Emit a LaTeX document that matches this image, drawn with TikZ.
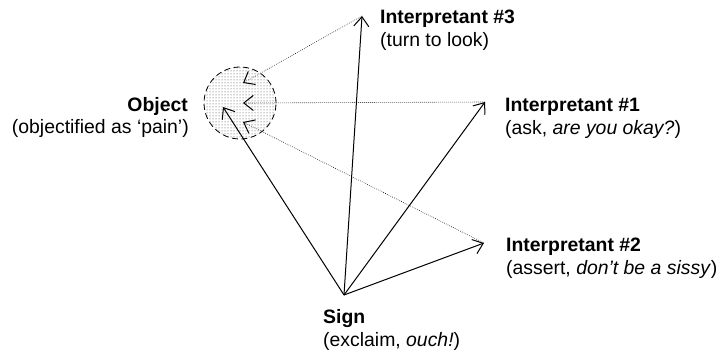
\documentclass[tikz,border=0pt]{standalone}
\usepackage{fontspec}
\setmainfont{Liberation Sans}
\usetikzlibrary{arrows.meta,patterns}
\begin{document}
\begin{tikzpicture}[x=1pt,y=-1pt,
  lbl/.style={inner sep=0pt,font=\fontsize{19.4}{23}\selectfont},
  solidarrow/.style={line width=1pt,-{Straight Barb[length=9.5pt,width=15pt,line width=1pt]}},
  dotarrow/.style={line width=0.6pt,dash pattern=on 0.6pt off 1.4pt,-{Straight Barb[length=9.5pt,width=15pt,line width=1pt]}}]
\useasboundingbox (0,0) rectangle (717,353);
% object circle
\node[circle,minimum size=72pt,inner sep=0pt,draw,line width=0.8pt,dash pattern=on 6pt off 3.5pt,pattern=dots,pattern color=black!75] (obj) at (240,103) {};
% points
\coordinate (sign) at (344,295);
\coordinate (i3) at (362,16);
\coordinate (i1) at (485,102);
\coordinate (i2) at (484,243);
\coordinate (oS) at (223,107);
\coordinate (o3) at (243,83);
\coordinate (o1) at (243,103);
\coordinate (o2) at (243,122);
% arrows
\draw[solidarrow] (sign) -- (i3);
\draw[solidarrow] (sign) -- (i1);
\draw[solidarrow] (sign) -- (i2);
\draw[solidarrow] (sign) -- (oS);
\draw[dotarrow] (i3) -- (o3);
\draw[dotarrow] (i1) -- (o1);
\draw[dotarrow] (i2) -- (o2);
% labels
\node[lbl,anchor=base west] (i3a) at (380,24) {\textbf{Interpretant \#3}};
\node[lbl,anchor=base west] (i3b) at (380,47) {(turn to look)};
\node[lbl,anchor=base west] (i1a) at (505,111) {\textbf{Interpretant \#1}};
\node[lbl,anchor=base west] (i1b) at (505,134) {(ask, \textit{are you okay?})};
\node[lbl,anchor=base west] (i2a) at (506,251) {\textbf{Interpretant \#2}};
\node[lbl,anchor=base west] (i2b) at (506,274) {(assert, \textit{don’t be a sissy})};
\node[lbl,anchor=base west] (sa) at (323,323) {\textbf{Sign}};
\node[lbl,anchor=base west] (sb) at (323,346) {(exclaim, \textit{ouch!})};
\node[lbl,anchor=base east] (oa) at (188,111) {\textbf{Object}};
\node[lbl,anchor=base east] (ob) at (189,133) {(objectified as ‘pain’)};
\end{tikzpicture}
\end{document}
